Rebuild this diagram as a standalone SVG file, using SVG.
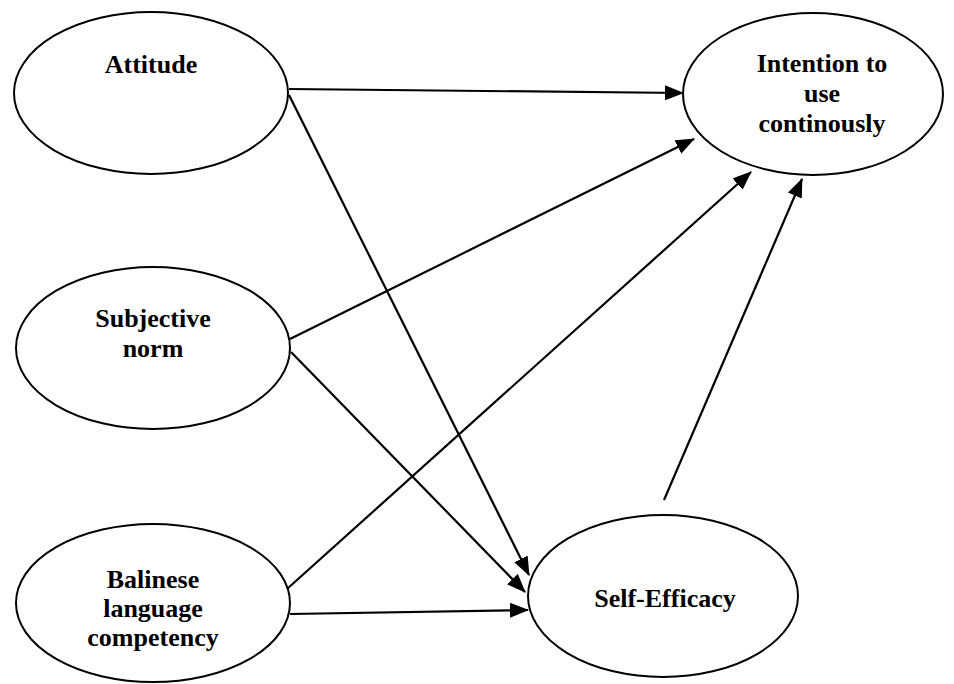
<svg xmlns="http://www.w3.org/2000/svg" width="954" height="684" viewBox="0 0 954 684">
<style>
.node{fill:#fff;stroke:#000;stroke-width:2}
.lbl{font-family:"Liberation Serif","Times New Roman",serif;font-weight:bold;font-size:26px;fill:#000;text-anchor:middle}
.edge{stroke:#000;stroke-width:2.2;fill:none;marker-end:url(#arr)}
</style>
<defs>
<marker id="arr" markerUnits="userSpaceOnUse" markerWidth="19" markerHeight="15" refX="18" refY="7.5" orient="auto" viewBox="0 0 19 15">
<path d="M0,0 L19,7.5 L0,15 z" fill="#000"/>
</marker>
</defs>
<rect width="954" height="684" fill="#fff"/>
<g id="attitude">
<ellipse class="node" cx="151" cy="93" rx="137" ry="81"/>
<text class="lbl" x="151" y="73">Attitude</text>
</g>
<g id="intention">
<ellipse class="node" cx="813" cy="94" rx="130" ry="81"/>
<text class="lbl" x="822" y="72">Intention to</text>
<text class="lbl" x="822" y="102">use</text>
<text class="lbl" x="822" y="132">continously</text>
</g>
<g id="subjective-norm">
<ellipse class="node" cx="153" cy="348" rx="137" ry="81"/>
<text class="lbl" x="153" y="327">Subjective</text>
<text class="lbl" x="153" y="357">norm</text>
</g>
<g id="balinese">
<ellipse class="node" cx="153" cy="603" rx="137" ry="79"/>
<text class="lbl" x="153" y="588">Balinese</text>
<text class="lbl" x="153" y="617">language</text>
<text class="lbl" x="153" y="646">competency</text>
</g>
<g id="self-efficacy">
<ellipse class="node" cx="663" cy="596" rx="135" ry="81"/>
<text class="lbl" x="665" y="607">Self-Efficacy</text>
</g>
<g id="connectors">
<line class="edge" x1="289" y1="89" x2="683" y2="93"/>
<line class="edge" x1="289" y1="95" x2="529" y2="575"/>
<line class="edge" x1="290" y1="339" x2="694" y2="139"/>
<line class="edge" x1="291" y1="352" x2="525" y2="592"/>
<line class="edge" x1="287" y1="589" x2="751" y2="172"/>
<line class="edge" x1="290" y1="614" x2="528" y2="610"/>
<line class="edge" x1="664" y1="500" x2="802" y2="179"/>
</g>
</svg>
